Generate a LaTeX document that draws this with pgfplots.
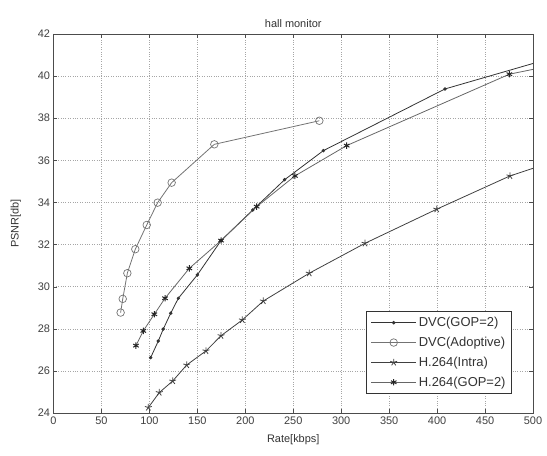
\documentclass[border=0pt]{standalone}
\usepackage{fontspec}
\setmainfont{Liberation Sans}
\usepackage{pgfplots}
\pgfplotsset{compat=1.18}
\begin{document}
\begin{tikzpicture}
\begin{axis}[
  scale only axis,
  width=479.5bp, height=379bp,
  xmin=0, xmax=500, ymin=24, ymax=42,
  clip=true,
  xtick={0,50,...,500}, ytick={24,26,...,42},
  tick align=inside,
  major tick length=4bp,
  xtick pos=both, ytick pos=both,
  grid=major,
  major grid style={dotted, gray!70, line width=0.5pt},
  axis line style={black!70, line width=0.7pt},
  tick style={black!70},
  ticklabel style={font=\fontsize{11}{12}\selectfont, text=black!75},
  /pgf/number format/assume math mode=true,
  title={hall monitor},
  title style={font=\fontsize{11}{12}\selectfont, text=black!80, yshift=-3bp},
  xlabel={Rate[kbps]}, ylabel={PSNR[db]},
  label style={font=\fontsize{11}{12}\selectfont, text=black!80},
  xlabel style={yshift=-3bp},
  ylabel style={yshift=10bp},
  legend style={at={(0.956,0.05)}, anchor=south east, font=\fontsize{13}{15}\selectfont,
    draw=black!80, line width=0.7pt, inner xsep=4bp, inner ysep=4bp, row sep=5bp, text=black!80},
  legend cell align=left,
  legend image post style={line width=0.9pt},
  legend image code/.code={\draw[mark indices={2}] plot coordinates {(0cm,0cm) (0.8cm,0cm) (1.6cm,0cm)};},
]
\addplot[black!80, line width=0.8pt, mark=*, mark size=1.3pt, mark indices={1,...,11}] coordinates {
(101.3,26.63)(109.3,27.42)(114.5,27.99)(122.2,28.74)(130.2,29.45)(150,30.56)(174.7,32.19)(207.7,33.64)(241,35.08)(281.4,36.46)(408.2,39.39)(500,40.6)};
\addlegendentry{DVC(GOP=2)}
\addplot[black!55, line width=0.8pt, mark=o, mark size=3.8pt, mark options={line width=0.7pt}] coordinates {
(70,28.77)(72.2,29.42)(77,30.64)(85.3,31.78)(97.2,32.93)(108.6,33.99)(123.2,34.94)(167.7,36.76)(277.2,37.88)};
\addlegendentry{DVC(Adoptive)}
\addplot[black!75, line width=0.8pt, mark=star, mark size=3.6pt, mark options={line width=0.8pt}, mark indices={1,...,12}] coordinates {
(98.9,24.26)(110.3,24.97)(124.3,25.52)(138.9,26.28)(159,26.95)(174.7,27.67)(196.9,28.42)(218.8,29.32)(266.7,30.64)(324.8,32.06)(399.6,33.68)(476,35.26)(500,35.62)};
\addlegendentry{H.264(Intra)}
\addplot[black!60, line width=0.8pt, mark=asterisk, mark size=3.2pt, mark options={black!85, line width=1pt}, mark indices={1,...,10}] coordinates {
(86,27.2)(93.6,27.9)(105.1,28.69)(116.3,29.45)(141.6,30.87)(174.7,32.19)(211.9,33.8)(251.8,35.26)(305.7,36.7)(475.3,40.09)(500,40.32)};
\addlegendentry{H.264(GOP=2)}
\end{axis}
\pgfresetboundingbox
\path[use as bounding box] ([shift={(-53.5bp,-42bp)}]current axis.south west) rectangle ([shift={(14bp,34bp)}]current axis.north east);
\end{tikzpicture}
\end{document}
